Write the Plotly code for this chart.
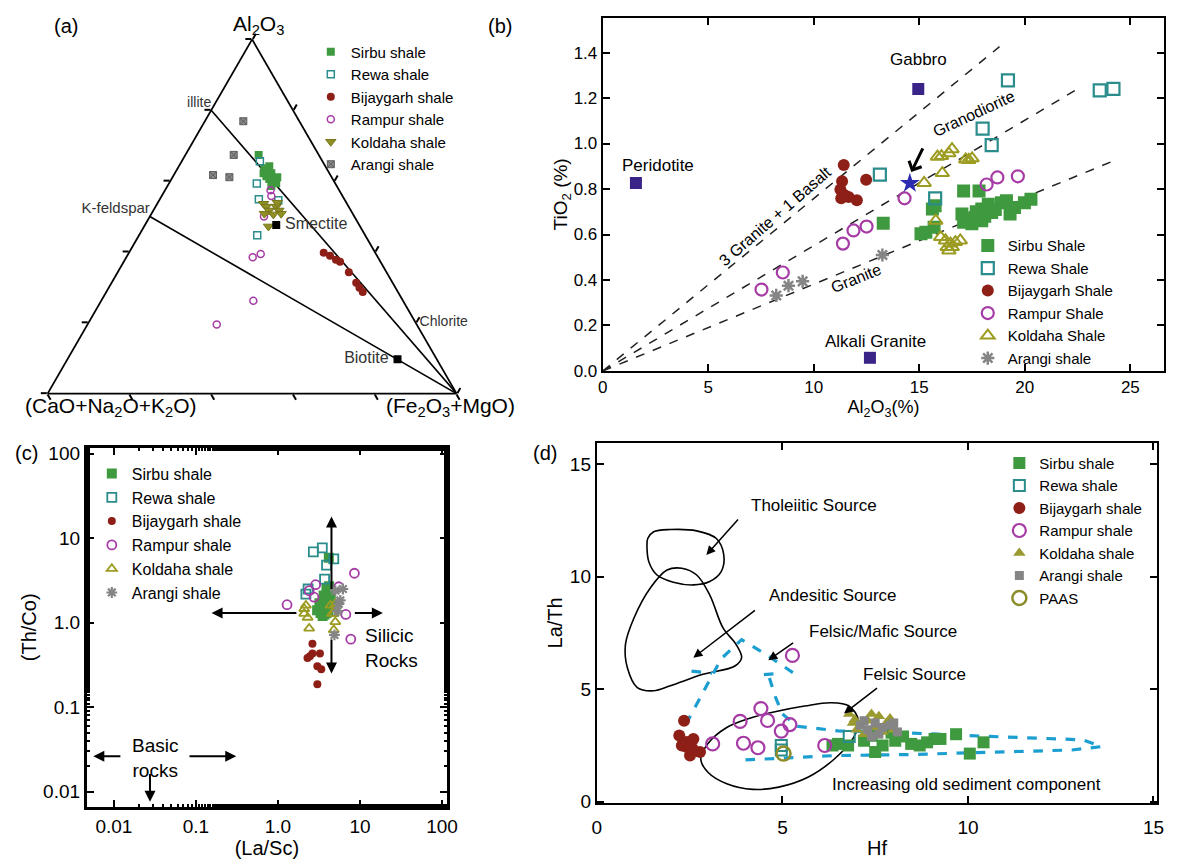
import math
import plotly.graph_objects as go

W, H = 1182, 868
FONT = "Liberation Sans, Arial, Helvetica, sans-serif"


def px(x):
    """pixel column -> paper x"""
    return x / W


def py(y):
    """pixel row -> paper y"""
    return 1 - y / H


# ---------------- colours ----------------
C_SIRBU = "#3f9a3f"
C_REWA = "#2b8c8c"
C_BIJAY = "#8e1f17"
C_RAMPUR = "#a63ba6"
C_KOLD = "#9c9c22"
C_ARANGI = "#858585"
C_REF = "#3b2488"
C_STAR = "#2c2cb0"
C_CYAN = "#1c9fd0"

# =========== (a) Al2O3 - (CaO+Na2O+K2O) - (Fe2O3+MgO) ternary ===========
# a = Al2O3, b = CaO+Na2O+K2O, c = Fe2O3+MgO
A_SIRBU_A = [0.674, 0.636, 0.628, 0.622, 0.614, 0.606, 0.600, 0.594, 0.622, 0.586, 0.611, 0.642]
A_SIRBU_B = [0.147, 0.152, 0.149, 0.142, 0.158, 0.155, 0.148, 0.144, 0.161, 0.160, 0.133, 0.137]
A_SIRBU_C = [0.179, 0.212, 0.223, 0.236, 0.228, 0.239, 0.252, 0.262, 0.217, 0.254, 0.256, 0.221]

A_REWA_A = [0.656, 0.593, 0.549, 0.546, 0.447]
A_REWA_B = [0.153, 0.192, 0.209, 0.163, 0.264]
A_REWA_C = [0.191, 0.215, 0.242, 0.291, 0.289]

A_BIJAY_A = [0.398, 0.389, 0.378, 0.372, 0.343, 0.313, 0.299, 0.287]
A_BIJAY_B = [0.126, 0.115, 0.106, 0.099, 0.092, 0.089, 0.088, 0.086]
A_BIJAY_C = [0.476, 0.496, 0.516, 0.529, 0.565, 0.598, 0.613, 0.627]

A_RAMPUR_A = [0.574, 0.558, 0.500, 0.385, 0.394, 0.262, 0.195]
A_RAMPUR_B = [0.168, 0.174, 0.221, 0.306, 0.282, 0.366, 0.489]
A_RAMPUR_C = [0.258, 0.268, 0.279, 0.309, 0.324, 0.372, 0.316]

A_KOLD_A = [0.536, 0.528, 0.517, 0.528, 0.517, 0.508, 0.508, 0.506, 0.539, 0.472]
A_KOLD_B = [0.204, 0.201, 0.200, 0.177, 0.176, 0.175, 0.216, 0.195, 0.169, 0.224]
A_KOLD_C = [0.260, 0.271, 0.283, 0.295, 0.307, 0.317, 0.276, 0.299, 0.292, 0.304]

A_ARANGI_A = [0.769, 0.674, 0.617, 0.611]
A_ARANGI_B = [0.137, 0.208, 0.287, 0.250]
A_ARANGI_C = [0.094, 0.118, 0.096, 0.139]

# reference minerals
MIN_ILLITE = (0.80, 0.20, 0.00)
MIN_KFELD = (0.50, 0.50, 0.00)
MIN_SMECTITE = (0.476, 0.203, 0.321)
MIN_BIOTITE = (0.097, 0.096, 0.807)
MIN_CHLORITE = (0.20, 0.00, 0.80)
APEX_FM = (0.0, 0.0, 1.0)

# =========== (b) TiO2 vs Al2O3 ===========
B_SIRBU_X = [13.29, 15.31, 15.08, 15.70, 15.62, 15.75, 17.10, 17.83, 17.02, 17.10, 17.34, 17.49, 17.64,
             17.96, 17.96, 18.27, 18.43, 18.89, 19.13, 19.51, 19.98, 20.29, 17.70, 18.10, 18.60, 19.30]
B_SIRBU_Y = [0.649, 0.610, 0.603, 0.632, 0.712, 0.726, 0.791, 0.791, 0.690, 0.654, 0.668, 0.647, 0.675,
             0.712, 0.661, 0.733, 0.697, 0.740, 0.748, 0.719, 0.740, 0.755, 0.700, 0.680, 0.710, 0.690]
B_REWA_X = [13.13, 15.75, 18.00, 18.43, 19.20, 23.55, 24.20]
B_REWA_Y = [0.863, 0.759, 1.066, 0.993, 1.278, 1.234, 1.240]
B_BIJAY_X = [11.42, 11.34, 12.48, 11.26, 11.45, 11.65, 12.04, 11.30]
B_BIJAY_Y = [0.906, 0.834, 0.841, 0.798, 0.774, 0.765, 0.751, 0.760]
B_RAMPUR_X = [7.52, 8.53, 11.38, 11.88, 12.50, 14.30, 18.19, 18.70, 19.67]
B_RAMPUR_Y = [0.358, 0.433, 0.560, 0.618, 0.635, 0.759, 0.820, 0.851, 0.856]
B_KOLD_X = [15.23, 16.09, 15.86, 16.05, 16.40, 16.55, 17.20, 17.34, 17.50,
            15.78, 16.01, 16.24, 16.48, 16.71, 16.94, 16.32, 16.56, 16.40]
B_KOLD_Y = [0.827, 0.870, 0.942, 0.945, 0.957, 0.975, 0.930, 0.928, 0.935,
            0.661, 0.589, 0.574, 0.560, 0.567, 0.574, 0.545, 0.545, 0.530]
B_ARANGI_X = [8.22, 8.80, 9.47, 13.25]
B_ARANGI_Y = [0.332, 0.375, 0.394, 0.510]

B_REF_NAMES = ["Peridotite", "Gabbro", "Alkali Granite"]
B_REF_X = [1.57, 14.95, 12.66]
B_REF_Y = [0.827, 1.240, 0.058]
B_STAR_X = [14.55]
B_STAR_Y = [0.825]
# mixing lines from the origin: 3 Granite + 1 Basalt, Granodiorite, Granite
B_MIX_X_END = [18.8, 22.66, 24.1]
B_MIX_Y_END = [1.426, 1.249, 0.920]

# =========== (c) Th/Co vs La/Sc ===========
C_SIRBU_X = [3.3, 3.5, 3.7, 3.9, 4.1, 3.4, 3.6, 3.8, 4.0, 4.3, 3.2, 3.5, 3.8, 4.1, 4.4, 3.9, 4.2, 3.0, 4.5, 3.6, 4.17]
C_SIRBU_Y = [1.30, 1.20, 1.25, 1.30, 1.35, 1.50, 1.45, 1.50, 1.60, 1.55, 1.70, 1.80, 1.90, 2.00, 2.20, 2.50, 2.70, 1.40, 1.70, 2.10, 5.85]
C_REWA_X = [2.70, 3.47, 4.79, 3.91, 3.70, 2.19, 2.33]
C_REWA_Y = [6.87, 7.65, 5.69, 4.80, 3.27, 2.18, 2.50]
C_BIJAY_X = [2.63, 2.29, 2.63, 3.25, 3.02, 3.37, 3.02, 2.45]
C_BIJAY_Y = [0.562, 0.382, 0.430, 0.430, 0.305, 0.280, 0.187, 0.400]
C_RAMPUR_X = [1.29, 2.40, 2.88, 2.75, 5.50, 6.72, 8.55, 7.72]
C_RAMPUR_Y = [1.63, 2.39, 2.81, 2.00, 2.66, 1.25, 3.84, 0.637]
C_KOLD_X = [2.09, 2.19, 2.09, 2.40, 4.79, 5.00, 4.79, 4.37, 5.00, 4.57, 2.30]
C_KOLD_Y = [1.28, 1.60, 1.46, 0.855, 1.28, 1.02, 0.82, 1.60, 1.67, 1.28, 1.15]
C_ARANGI_X = [5.75, 5.00, 4.88, 5.50, 6.19, 5.33]
C_ARANGI_Y = [1.83, 2.39, 0.715, 1.67, 2.50, 1.37]

# =========== (d) La/Th vs Hf ===========
D_SIRBU_X = [6.35, 6.50, 6.77, 7.20, 7.40, 7.50, 7.70, 7.94, 8.04, 8.25, 8.47, 8.70, 8.90, 9.10, 9.26, 9.68, 10.05, 10.42]
D_SIRBU_Y = [2.50, 2.57, 2.50, 2.71, 2.93, 2.21, 2.50, 3.07, 2.71, 2.90, 2.57, 2.50, 2.64, 2.79, 2.79, 3.00, 2.14, 2.64]
D_REWA_X = [4.97, 4.97, 6.80]
D_REWA_Y = [2.50, 2.30, 2.90]
D_BIJAY_X = [2.35, 2.22, 2.60, 2.42, 2.58, 2.78, 2.51, 2.29, 2.42]
D_BIJAY_Y = [3.60, 2.94, 2.79, 2.43, 2.35, 2.21, 2.06, 2.50, 2.65]
D_RAMPUR_X = [3.12, 3.86, 4.42, 4.60, 3.95, 4.34, 4.97, 5.20, 5.27, 6.14]
D_RAMPUR_Y = [2.57, 3.57, 4.14, 3.61, 2.60, 2.40, 3.14, 3.43, 6.50, 2.50]
D_KOLD_X = [6.80, 6.90, 7.00, 7.30, 7.50, 7.60, 7.80, 7.90, 8.00, 7.20, 7.70, 6.95, 7.40]
D_KOLD_Y = [3.90, 3.50, 3.20, 3.60, 3.30, 3.80, 3.50, 3.70, 3.20, 3.00, 3.10, 3.65, 3.90]
D_ARANGI_X = [7.10, 7.30, 7.50, 7.70, 7.90, 8.10, 7.20, 7.60, 7.40, 8.00]
D_ARANGI_Y = [3.40, 3.20, 3.50, 3.30, 3.40, 3.10, 3.60, 3.00, 2.90, 3.50]
D_PAAS_X = [5.03]
D_PAAS_Y = [2.14]

# source fields (closed outlines)
THOL_X = [1.37, 1.53, 1.98, 2.69, 3.22, 3.42, 3.35, 3.04, 2.60, 2.06, 1.62, 1.40, 1.35, 1.37]
THOL_Y = [11.69, 11.99, 12.09, 12.03, 11.69, 10.96, 10.22, 9.78, 9.63, 9.75, 10.07, 10.66, 11.32, 11.69]
ANDES_X = [2.29, 2.69, 3.04, 3.40, 3.75, 3.90, 3.72, 2.86, 1.98, 1.53, 1.09, 0.82, 0.77, 1.00, 1.44, 1.89, 2.29]
ANDES_Y = [10.37, 10.07, 9.19, 7.72, 6.99, 6.40, 6.03, 5.66, 5.15, 4.93, 5.07, 5.96, 6.99, 8.16, 9.49, 10.29, 10.37]
FELS_X = [2.80, 3.00, 3.50, 4.10, 4.80, 5.60, 6.30, 6.80, 7.05, 6.90, 6.40, 5.70, 4.90, 4.20, 3.50, 3.00, 2.80]
FELS_Y = [1.90, 2.60, 3.30, 3.70, 4.00, 4.25, 4.40, 4.25, 3.60, 2.80, 1.90, 1.10, 0.65, 0.55, 0.80, 1.30, 1.90]

# dashed mixing trends
CYAN_PATHS = [
    ([2.40, 3.35, 3.90, 4.60, 5.40], [3.45, 6.35, 7.20, 6.50, 5.60]),
    ([2.55, 3.10], [5.80, 5.70]),
    ([4.50, 4.95], [5.65, 5.70]),
    ([4.65, 4.80, 5.00, 5.40, 6.50, 8.50, 10.60, 12.40, 13.10, 13.60, 12.80, 10.60, 8.50, 6.40, 3.90],
     [5.50, 4.70, 3.90, 3.35, 3.15, 3.05, 2.90, 2.80, 2.75, 2.45, 2.30, 2.20, 2.10, 2.05, 1.85]),
]

fig = go.Figure()

# ---------------- (a) traces ----------------
a_series = [
    ("Sirbu shale", A_SIRBU_A, A_SIRBU_B, A_SIRBU_C, dict(symbol="square", size=8, color=C_SIRBU)),
    ("Rewa shale", A_REWA_A, A_REWA_B, A_REWA_C,
     dict(symbol="square-open", size=7, color=C_REWA, line=dict(width=1.5, color=C_REWA))),
    ("Bijaygarh shale", A_BIJAY_A, A_BIJAY_B, A_BIJAY_C, dict(symbol="circle", size=8, color=C_BIJAY)),
    ("Rampur shale", A_RAMPUR_A, A_RAMPUR_B, A_RAMPUR_C,
     dict(symbol="circle-open", size=7, color=C_RAMPUR, line=dict(width=1.5, color=C_RAMPUR))),
    ("Koldaha shale", A_KOLD_A, A_KOLD_B, A_KOLD_C,
     dict(symbol="triangle-down", size=9, color="#8f8f25", line=dict(width=1, color="#77771c"))),
    ("Arangi shale", A_ARANGI_A, A_ARANGI_B, A_ARANGI_C,
     dict(symbol="square-x", size=7, color="#8a8a8a", line=dict(width=1, color="#5c5c5c"))),
]

# mixing lines illite -> FM apex, K-feldspar -> FM apex
for p in (MIN_ILLITE, MIN_KFELD):
    fig.add_trace(go.Scatterternary(
        a=[p[0], APEX_FM[0]], b=[p[1], APEX_FM[1]], c=[p[2], APEX_FM[2]],
        mode="lines", line=dict(color="black", width=1.6), showlegend=False, hoverinfo="skip"))

for name, aa, bb, cc, mk in a_series:
    fig.add_trace(go.Scatterternary(a=aa, b=bb, c=cc, mode="markers", name=name, marker=mk,
                                    legend="legend"))

# mineral end-members and their labels
fig.add_trace(go.Scatterternary(
    a=[MIN_SMECTITE[0], MIN_BIOTITE[0]], b=[MIN_SMECTITE[1], MIN_BIOTITE[1]],
    c=[MIN_SMECTITE[2], MIN_BIOTITE[2]], mode="markers", showlegend=False,
    marker=dict(symbol="square", size=8, color="black")))
NB = "\u00a0"
mineral_text = [
    (MIN_SMECTITE, NB * 2 + "Smectite", "middle right", 16),
    (MIN_BIOTITE, "Biotite" + NB * 2, "middle left", 16),
    (MIN_ILLITE, "illite", "top left", 14),
    (MIN_KFELD, "K-feldspar", "top left", 15),
    (MIN_CHLORITE, NB + "Chlorite", "middle right", 14),
]
for p, t, pos, fs in mineral_text:
    fig.add_trace(go.Scatterternary(
        a=[p[0]], b=[p[1]], c=[p[2]], mode="text", text=[t], textposition=pos, cliponaxis=False,
        textfont=dict(family=FONT, size=fs, color="#333333"), showlegend=False, hoverinfo="skip"))

# ---------------- (b) traces ----------------
for xe, ye in zip(B_MIX_X_END, B_MIX_Y_END):
    fig.add_trace(go.Scatter(x=[0, xe], y=[0, ye], mode="lines", xaxis="x", yaxis="y",
                             line=dict(color="#222222", width=1.5, dash="dash"), showlegend=False,
                             hoverinfo="skip"))
fig.add_trace(go.Scatter(x=B_REF_X, y=B_REF_Y, mode="markers", xaxis="x", yaxis="y", showlegend=False,
                         marker=dict(symbol="square", size=12, color=C_REF), text=B_REF_NAMES))
b_series = [
    ("Sirbu Shale", B_SIRBU_X, B_SIRBU_Y, dict(symbol="square", size=13, color=C_SIRBU)),
    ("Rewa Shale", B_REWA_X, B_REWA_Y,
     dict(symbol="square-open", size=12, color=C_REWA, line=dict(width=2.2, color=C_REWA))),
    ("Bijaygarh Shale", B_BIJAY_X, B_BIJAY_Y, dict(symbol="circle", size=12, color=C_BIJAY)),
    ("Rampur Shale", B_RAMPUR_X, B_RAMPUR_Y,
     dict(symbol="circle-open", size=12, color=C_RAMPUR, line=dict(width=2.2, color=C_RAMPUR))),
    ("Koldaha Shale", B_KOLD_X, B_KOLD_Y,
     dict(symbol="triangle-up-open", size=12, color=C_KOLD, line=dict(width=2, color=C_KOLD))),
    ("Arangi shale", B_ARANGI_X, B_ARANGI_Y,
     dict(symbol="asterisk-open", size=11, color=C_ARANGI, line=dict(width=2.5, color=C_ARANGI))),
]
for name, xx, yy, mk in b_series:
    fig.add_trace(go.Scatter(x=xx, y=yy, mode="markers", name=name, marker=mk, xaxis="x", yaxis="y",
                             legend="legend2"))
fig.add_trace(go.Scatter(x=B_STAR_X, y=B_STAR_Y, mode="markers", xaxis="x", yaxis="y", showlegend=False,
                         marker=dict(symbol="star", size=15, color=C_STAR)))

# ---------------- (c) traces ----------------
c_series = [
    ("Sirbu shale", C_SIRBU_X, C_SIRBU_Y, dict(symbol="square", size=10, color=C_SIRBU)),
    ("Rewa shale", C_REWA_X, C_REWA_Y,
     dict(symbol="square-open", size=9, color=C_REWA, line=dict(width=1.8, color=C_REWA))),
    ("Bijaygarh shale", C_BIJAY_X, C_BIJAY_Y, dict(symbol="circle", size=8, color=C_BIJAY)),
    ("Rampur shale", C_RAMPUR_X, C_RAMPUR_Y,
     dict(symbol="circle-open", size=9, color=C_RAMPUR, line=dict(width=1.8, color=C_RAMPUR))),
    ("Koldaha shale", C_KOLD_X, C_KOLD_Y,
     dict(symbol="triangle-up-open", size=9, color=C_KOLD, line=dict(width=1.8, color=C_KOLD))),
    ("Arangi shale", C_ARANGI_X, C_ARANGI_Y,
     dict(symbol="asterisk-open", size=9, color=C_ARANGI, line=dict(width=2.2, color=C_ARANGI))),
]
for name, xx, yy, mk in c_series:
    fig.add_trace(go.Scatter(x=xx, y=yy, mode="markers", name=name, marker=mk, xaxis="x2", yaxis="y2",
                             legend="legend3"))

# ---------------- (d) traces ----------------
for xx, yy in ((THOL_X, THOL_Y), (ANDES_X, ANDES_Y), (FELS_X, FELS_Y)):
    fig.add_trace(go.Scatter(x=xx, y=yy, mode="lines", xaxis="x3", yaxis="y3", showlegend=False,
                             line=dict(color="black", width=1.6, shape="spline", smoothing=1.0),
                             hoverinfo="skip"))
for xx, yy in CYAN_PATHS:
    fig.add_trace(go.Scatter(x=xx, y=yy, mode="lines", xaxis="x3", yaxis="y3", showlegend=False,
                             line=dict(color=C_CYAN, width=3.2, dash="dash"), hoverinfo="skip"))
d_series = [
    ("Sirbu shale", D_SIRBU_X, D_SIRBU_Y, dict(symbol="square", size=12, color=C_SIRBU)),
    ("Rewa shale", D_REWA_X, D_REWA_Y,
     dict(symbol="square-open", size=11, color=C_REWA, line=dict(width=2, color=C_REWA))),
    ("Bijaygarh shale", D_BIJAY_X, D_BIJAY_Y, dict(symbol="circle", size=12, color=C_BIJAY)),
    ("Rampur shale", D_RAMPUR_X, D_RAMPUR_Y,
     dict(symbol="circle-open", size=13, color=C_RAMPUR, line=dict(width=2.2, color=C_RAMPUR))),
    ("Koldaha shale", D_KOLD_X, D_KOLD_Y, dict(symbol="triangle-up", size=11, color="#9a9a30")),
    ("Arangi shale", D_ARANGI_X, D_ARANGI_Y, dict(symbol="square", size=9, color=C_ARANGI)),
    ("PAAS", D_PAAS_X, D_PAAS_Y,
     dict(symbol="circle-open", size=14, color="#8c8c2a", line=dict(width=2.5, color="#8c8c2a"))),
]
for name, xx, yy, mk in d_series:
    fig.add_trace(go.Scatter(x=xx, y=yy, mode="markers", name=name, marker=mk, xaxis="x3", yaxis="y3",
                             legend="legend4"))

# ---------------- annotations ----------------
ann = []


def text_ann(x, y, t, size, xref="paper", yref="paper", angle=0, xanchor="center", align="center",
             color="black"):
    ann.append(dict(x=x, y=y, xref=xref, yref=yref, text=t, showarrow=False, textangle=angle,
                    xanchor=xanchor, yanchor="middle", align=align,
                    font=dict(family=FONT, size=size, color=color)))


def arrow_ann(x, y, ax, ay, xref, yref, width=1.5, head=2, size=1.2):
    ann.append(dict(x=x, y=y, ax=ax, ay=ay, xref=xref, yref=yref, axref=xref, ayref=yref, text="",
                    showarrow=True, arrowhead=head, arrowsize=size, arrowwidth=width, arrowcolor="black"))


# panel letters
text_ann(px(62), py(22), "(a)", 20)
text_ann(px(502), py(22), "(b)", 20)
text_ann(px(22), py(456), "(c)", 20)
text_ann(px(547), py(456), "(d)", 20)

# ternary apex labels
text_ann(px(257), py(21), "Al<sub>2</sub>O<sub>3</sub>", 21)
text_ann(px(107), py(410), "(CaO+Na<sub>2</sub>O+K<sub>2</sub>O)", 21)
text_ann(px(452), py(410), "(Fe<sub>2</sub>O<sub>3</sub>+MgO)", 21)

# (b) labels
text_ann(2.6, 0.905, "Peridotite", 17, "x", "y")
text_ann(14.98, 1.368, "Gabbro", 17, "x", "y")
text_ann(12.9, 0.131, "Alkali Granite", 17, "x", "y")
text_ann(8.15, 0.68, "3 Granite + 1 Basalt", 16, "x", "y", angle=-41)
text_ann(17.6, 1.13, "Granodiorite", 16, "x", "y", angle=-25)
text_ann(12.0, 0.405, "Granite", 16, "x", "y", angle=-22)
arrow_ann(14.62, 0.875, 15.2, 0.985, "x", "y", width=3, head=4, size=0.9)

# (c) labels and direction arrows (log axes take log10 positions)
L = math.log10
text_ann(L(11.0), L(0.50), "Silicic<br>Rocks", 19, "x2", "y2", xanchor="left", align="left")
text_ann(L(0.032), L(0.025), "Basic<br>rocks", 19, "x2", "y2")
C_ARROWS = [  # (tip_x, tip_y, tail_x, tail_y)
    (4.49, 18.0, 4.49, 2.4),
    (4.49, 0.25, 4.49, 0.66),
    (0.155, 1.30, 1.75, 1.30),
    (19.0, 1.30, 8.3, 1.30),
    (0.0056, 0.0262, 0.0125, 0.0262),
    (0.31, 0.0262, 0.08, 0.0262),
    (0.0275, 0.0076, 0.0275, 0.0168),
]
for tx, ty, sx, sy in C_ARROWS:
    arrow_ann(L(tx), L(ty), L(sx), L(sy), "x2", "y2", width=2, head=2, size=1.1)

# (d) labels
text_ann(5.85, 13.15, "Tholeiitic Source", 17, "x3", "y3")
text_ann(6.35, 9.15, "Andesitic Source", 17, "x3", "y3")
text_ann(7.7, 7.55, "Felsic/Mafic Source", 17, "x3", "y3")
text_ann(8.55, 5.66, "Felsic Source", 17, "x3", "y3")
text_ann(9.95, 0.78, "Increasing old sediment component", 17, "x3", "y3")
arrow_ann(2.95, 10.96, 3.84, 12.6, "x3", "y3")
arrow_ann(2.60, 6.40, 4.30, 8.55, "x3", "y3")
arrow_ann(4.62, 6.29, 5.33, 7.10, "x3", "y3")
arrow_ann(6.66, 3.92, 7.59, 5.10, "x3", "y3")

# ---------------- axes ----------------
tick_font = dict(family=FONT, size=18, color="black")


def frame_axis(**kw):
    base = dict(showline=True, linecolor="black", linewidth=2.2, mirror="ticks", ticks="inside",
                ticklen=7, tickwidth=1.5, tickcolor="black", showgrid=False, zeroline=False,
                tickfont=tick_font)
    base.update(kw)
    return base


tern_axis = dict(showticklabels=False, ticks="outside", ticklen=6, tickwidth=1.5, tickcolor="black",
                 dtick=0.2, tick0=0, linecolor="black", linewidth=1.8, showgrid=False,
                 title=dict(text=""))

legend_common = dict(bgcolor="rgba(0,0,0,0)", borderwidth=0, xanchor="left", yanchor="top",
                     itemclick=False, itemdoubleclick=False, tracegroupgap=0)

fig.update_layout(
    width=W, height=H, margin=dict(l=0, r=0, t=0, b=0),
    paper_bgcolor="white", plot_bgcolor="white",
    font=dict(family=FONT, color="black"),
    ternary=dict(domain=dict(x=[px(42), px(459)], y=[py(396), py(36)]), sum=1, bgcolor="white",
                 aaxis=tern_axis, baxis=tern_axis, caxis=tern_axis),
    xaxis=frame_axis(domain=[px(606), px(1175)], range=[0, 26.6], tickvals=[0, 5, 10, 15, 20, 25],
                     anchor="y", tickfont=dict(family=FONT, size=17),
                     title=dict(text="Al<sub>2</sub>O<sub>3</sub>(%)", font=dict(size=18), standoff=2)),
    yaxis=frame_axis(domain=[py(373), py(14)], range=[0, 1.553], dtick=0.2, tickformat=".1f",
                     anchor="x", tickfont=dict(family=FONT, size=17),
                     title=dict(text="TiO<sub>2</sub> (%)", font=dict(size=19), standoff=0)),
    xaxis2=frame_axis(domain=[px(83), px(448)], type="log", range=[-2.33, 2.06], anchor="y2",
                      tickvals=[0.01, 0.1, 1, 10, 100], ticktext=["0.01", "0.1", "1.0", "10", "100"],
                      linewidth=3, tickfont=dict(family=FONT, size=19),
                      minor=dict(ticks="inside", ticklen=3, tickcolor="black", showgrid=False),
                      title=dict(text="(La/Sc)", font=dict(size=20), standoff=2)),
    yaxis2=frame_axis(domain=[py(816), py(451)], type="log", range=[-2.18, 2.07], anchor="x2",
                      tickvals=[0.01, 0.1, 1, 10, 100], ticktext=["0.01", "0.1", "1.0", "10", "100"],
                      linewidth=3, tickfont=dict(family=FONT, size=19),
                      minor=dict(ticks="inside", ticklen=3, tickcolor="black", showgrid=False),
                      title=dict(text="(Th/Co)", font=dict(size=20), standoff=2)),
    xaxis3=frame_axis(domain=[px(600), px(1168)], range=[0, 15.1], tickvals=[0, 5, 10, 15], anchor="y3",
                      tickfont=dict(family=FONT, size=19), ticklabelstandoff=6,
                      title=dict(text="Hf", font=dict(size=20), standoff=4)),
    yaxis3=frame_axis(domain=[py(812), py(446)], range=[-0.05, 15.94], tickvals=[0, 5, 10, 15],
                      anchor="x3", tickfont=dict(family=FONT, size=19),
                      title=dict(text="La/Th", font=dict(size=20), standoff=2)),
    legend=dict(legend_common, x=px(310), y=py(32), font=dict(family=FONT, size=15)),
    legend2=dict(legend_common, x=px(976), y=py(229), font=dict(family=FONT, size=15)),
    legend3=dict(legend_common, x=px(88), y=py(460), font=dict(family=FONT, size=16)),
    legend4=dict(legend_common, x=px(1008), y=py(450), font=dict(family=FONT, size=15)),
    annotations=ann,
)

fig.write_html("out.html")
